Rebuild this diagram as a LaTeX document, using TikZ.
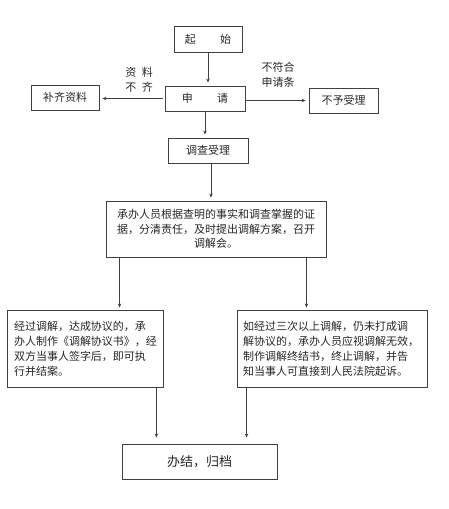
\documentclass[tikz,border=0pt]{standalone}
\usepackage{fontspec}
\setmainfont{Noto Sans CJK SC}
\usetikzlibrary{arrows.meta}
\tikzset{
  box/.style={draw=black!75, line width=0.9pt, rectangle, inner sep=0pt, text=black!85,
              font=\fontsize{11pt}{15pt}\selectfont},
  lbl/.style={align=center, text=black!85, font=\fontsize{11pt}{15pt}\selectfont},
  arr/.style={draw=black!75, line width=0.9pt, -{Stealth[length=4pt,width=3.5pt]}, shorten >=3pt}
}
\begin{document}
\begin{tikzpicture}[x=1pt,y=-1pt]
\useasboundingbox (0,0) rectangle (448,509);
\node[box, minimum width=68pt, minimum height=26pt] (S) at (208,39) {起\hspace{2.2em}始};
\node[box, minimum width=80pt, minimum height=25pt] (A) at (205,98.5) {申\hspace{2.2em}请};
\node[box, minimum width=68pt, minimum height=25pt] (L1) at (65,97.5) {补齐资料};
\node[box, minimum width=69pt, minimum height=25pt] (R1) at (343.5,100.5) {不予受理};
\node[box, minimum width=80pt, minimum height=25pt] (Q) at (208,150.5) {调查受理};
\node[box, minimum width=220pt, minimum height=56pt, align=center,
      font=\fontsize{11pt}{14.5pt}\selectfont] (B) at (216,229)
  {承办人员根据查明的事实和调查掌握的证\\据，分清责任，及时提出调解方案，召开\\调解会。};
\node[box, minimum width=156pt, minimum height=77pt, text width=142pt, align=left] (L) at (85,348.5)
  {经过调解，达成协议的，承\\办人制作《调解协议书》，经\\双方当事人签字后，即可执\\行并结案。};
\node[box, minimum width=190pt, minimum height=77pt, text width=178pt, align=left] (R) at (332,348.5)
  {如经过三次以上调解，仍未打成调\\解协议的，承办人员应视调解无效，\\制作调解终结书，终止调解，并告\\知当事人可直接到人民法院起诉。};
\node[box, minimum width=155pt, minimum height=35pt, font=\fontsize{13pt}{16pt}\selectfont] (E) at (199.5,461.5) {办结，归档};
\node[lbl] (t1) at (139,79.5) {资\hspace{0.5em}料\\不\hspace{0.5em}齐};
\node[lbl] (t2) at (278,74.5) {不符合\\申请条};

\draw[arr] (S.south) -- (S.south |- A.north);
\draw[arr, shorten <=2pt] (A.west) -- (A.west -| L1.east);
\draw[arr] (A.east |- R1.west) -- (R1.west);
\draw[arr] (A.south) -- (A.south |- Q.north);
\draw[arr] ([xshift=3pt]Q.south) -- ([xshift=3pt]Q.south |- B.north);
\draw[arr, shorten >=2pt] ([xshift=14pt]B.south west) -- ([xshift=14pt]B.south west |- L.north);
\draw[arr, shorten >=2pt] ([xshift=-20pt]B.south east) -- ([xshift=-20pt]B.south east |- R.north);
\draw[arr, shorten >=6pt] ([xshift=-7pt]L.south east) -- ([xshift=-7pt]L.south east |- E.north);
\draw[arr, shorten >=6pt] ([xshift=10pt]R.south west) -- ([xshift=10pt]R.south west |- E.north);
\end{tikzpicture}
\end{document}
